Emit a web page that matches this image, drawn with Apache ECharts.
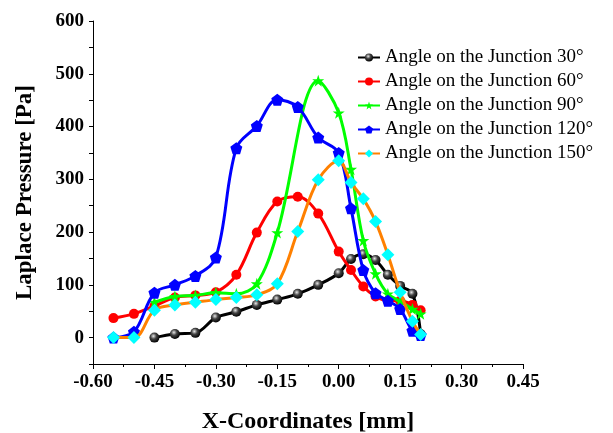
<!DOCTYPE html>
<html>
<head>
<meta charset="utf-8">
<script src="https://cdn.jsdelivr.net/npm/echarts@6/dist/echarts.min.js"></script>
<style>html,body{margin:0;padding:0;background:#fff}#c{width:613px;height:433px}</style>
</head>
<body>
<div id="c"></div>
<script>
const seriesNames = ['Angle on the Junction 30°','Angle on the Junction 60°','Angle on the Junction 90°','Angle on the Junction 120°','Angle on the Junction 150°'];
const x30 = [-0.45,-0.40,-0.35,-0.30,-0.25,-0.20,-0.15,-0.10,-0.05,0.00,0.03,0.06,0.09,0.12,0.15,0.18,0.20];
const y30 = [0,7,9,38,49,62,72,83,100,122,149,158,147,119,98,83,7];
const x60 = [-0.55,-0.50,-0.45,-0.40,-0.35,-0.30,-0.25,-0.20,-0.15,-0.10,-0.05,0.00,0.03,0.06,0.09,0.12,0.15,0.18,0.20];
const y60 = [37,45,60,76,80,86,119,199,258,267,235,163,128,97,78,70,70,62,52];
const x90 = [-0.45,-0.40,-0.35,-0.30,-0.25,-0.20,-0.15,-0.05,0.00,0.03,0.06,0.09,0.12,0.15,0.18,0.20];
const y90 = [67,78,80,85,83,102,199,487,426,319,184,121,83,69,54,45];
const x120 = [-0.55,-0.50,-0.45,-0.40,-0.35,-0.30,-0.25,-0.20,-0.15,-0.10,-0.05,0.00,0.03,0.06,0.09,0.12,0.15,0.18,0.20];
const y120 = [0,11,85,100,117,152,359,401,451,437,379,350,245,128,84,70,54,13,5];
const x150 = [-0.55,-0.50,-0.45,-0.40,-0.35,-0.30,-0.25,-0.20,-0.15,-0.10,-0.05,0.00,0.03,0.06,0.09,0.12,0.15,0.18,0.20];
const y150 = [0,0,52,62,67,72,76,81,102,201,299,335,294,263,220,157,86,31,6];

const pair = (xs, ys) => xs.map((x, i) => [x, ys[i]]);
const serif = '"Liberation Serif","Times New Roman",serif';
const sphere = {type:'radial', x:0.4, y:0.35, r:0.65, colorStops:[{offset:0,color:'#e8e8e8'},{offset:0.45,color:'#444'},{offset:1,color:'#000'}]};

const defs = [
  {data: pair(x30,y30), line:'#000000', fill: sphere, symbol:'circle', size:10},
  {data: pair(x60,y60), line:'#ff0000', fill:'#ff0000', symbol:'circle', size:10},
  {data: pair(x90,y90), line:'#00ff00', fill:'#00ff00', symbol:'path://M50,0 L61.8,35.5 L98.5,35.5 L69,57.5 L79.5,93 L50,71 L20.5,93 L31,57.5 L1.5,35.5 L38.2,35.5 Z', size:12},
  {data: pair(x120,y120), line:'#0000ff', fill:'#0000ff', symbol:'path://M50,0 L97.6,34.5 L79.4,90.5 L20.6,90.5 L2.4,34.5 Z', size:12},
  {data: pair(x150,y150), line:'#ff8000', fill:'#00ffff', symbol:'diamond', size:13}
];

const chart = echarts.init(document.getElementById('c'), null, {renderer:'canvas'});
chart.setOption({
  animation: false,
  backgroundColor: '#fff',
  grid: {left: 93, right: 90, top: 21, bottom: 69, containLabel: false, outerBoundsMode: 'none'},
  legend: {
    orient: 'vertical', left: 352, top: 43,
    itemWidth: 22, itemHeight: 10, itemGap: 5,
    textStyle: {fontFamily: serif, fontSize: 19, color: '#000', lineHeight: 19},
    data: seriesNames
  },
  xAxis: {
    type: 'value', min: -0.6, max: 0.45, interval: 0.15,
    name: 'X-Coordinates [mm]', nameLocation: 'middle', nameGap: 46,
    nameTextStyle: {fontFamily: serif, fontSize: 24, fontWeight: 'bold', color: '#000'},
    axisLine: {onZero: false, lineStyle: {color: '#000', width: 1}},
    axisTick: {show: true, inside: false, length: 5, lineStyle: {color: '#000'}},
    minorTick: {show: true, splitNumber: 2, length: 3, lineStyle: {color: '#000'}},
    splitLine: {show: false},
    axisLabel: {fontFamily: serif, fontSize: 19, fontWeight: 'bold', color: '#000', margin: 9,
      formatter: v => (Math.abs(v) < 1e-9 ? 0 : v).toFixed(2)}
  },
  yAxis: {
    type: 'value', min: -50, max: 600, interval: 50,
    name: 'Laplace Pressure [Pa]', nameLocation: 'middle', nameGap: 56,
    nameTextStyle: {fontFamily: serif, fontSize: 23, fontWeight: 'bold', color: '#000'},
    axisLine: {show: true, onZero: false, lineStyle: {color: '#000', width: 1}},
    axisTick: {show: true, inside: false, length: 4, lineStyle: {color: '#000'}},
    splitLine: {show: false},
    axisLabel: {fontFamily: serif, fontSize: 19, fontWeight: 'bold', color: '#000', margin: 9,
      formatter: v => (Math.round(v) % 100 === 0 ? String(Math.round(v)) : '')}
  },
  series: defs.map((d, i) => ({
    name: seriesNames[i], type: 'line', data: d.data,
    smooth: 0.35, symbol: d.symbol, symbolSize: d.size, showSymbol: true,
    lineStyle: {color: d.line, width: 3},
    itemStyle: {color: d.fill, borderColor: d.fill === sphere ? '#000' : d.fill, borderWidth: 0},
    emphasis: {disabled: true},
    z: 2 + i
  }))
});
</script>
</body>
</html>
